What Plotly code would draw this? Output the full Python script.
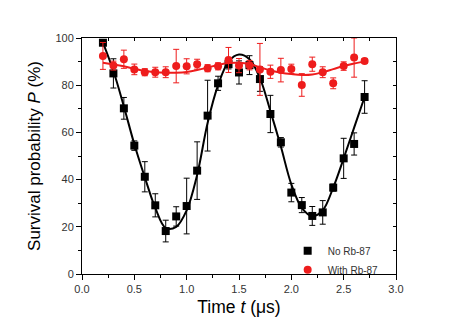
import plotly.graph_objects as go

# Measured survival probability vs. time
t = [0.2, 0.3, 0.4, 0.5, 0.6, 0.7, 0.8, 0.9, 1.0, 1.1, 1.2, 1.3, 1.4,
     1.5, 1.6, 1.7, 1.8, 1.9, 2.0, 2.1, 2.2, 2.3, 2.4, 2.5, 2.6, 2.7]

p_no_rb = [98.0, 85.0, 70.2, 54.4, 41.2, 29.1, 18.2, 24.4, 28.8, 43.8, 67.1, 80.8, 88.9,
           85.4, 88.5, 82.6, 67.8, 55.8, 34.5, 29.2, 24.6, 26.1, 36.6, 49.0, 55.1, 75.0]
err_no_rb = [1.0, 6.2, 4.6, 2.0, 6.4, 4.9, 4.6, 4.1, 11.8, 12.2, 15.0, 3.0, 2.0,
             4.9, 4.0, 5.2, 7.9, 2.0, 3.9, 3.2, 4.0, 5.0, 1.5, 8.5, 4.7, 6.9]

p_with_rb = [92.4, 88.3, 91.0, 86.7, 85.5, 85.5, 85.5, 88.1, 88.0, 88.9, 87.2, 88.0, 90.7,
             88.3, 88.5, 86.7, 85.7, 86.4, 86.9, 80.1, 88.9, 85.5, 80.8, 88.1, 91.7, 90.3]
err_with_rb = [5.7, 1.9, 3.85, 2.25, 1.5, 2.1, 2.3, 7.1, 3.2, 2.1, 1.5, 1.5, 5.3,
               3.0, 2.0, 11.0, 2.8, 5.0, 2.0, 4.8, 3.0, 2.3, 2.3, 1.8, 8.3, 1.0]

# Fitted curves
fit_no_rb = [98.0, 86.0, 71.0, 55.0, 41.0, 28.0, 19.5, 20.0, 27.0, 42.0, 64.0, 80.0, 90.0,
             93.0, 91.0, 83.0, 69.0, 54.0, 38.0, 28.0, 24.5, 27.0, 36.6, 49.0, 62.0, 75.0]
fit_with_rb = [89.5, 88.8, 88.0, 87.0, 86.0, 85.5, 85.3, 85.3, 85.6, 86.4, 87.5, 88.6, 89.4,
               89.5, 89.0, 87.6, 86.2, 85.3, 84.7, 84.3, 84.5, 85.5, 86.8, 88.1, 89.2, 90.1]

x_ticks = [0.0, 0.5, 1.0, 1.5, 2.0, 2.5, 3.0]
x_tick_labels = ["0.0", "0.5", "1.0", "1.5", "2.0", "2.5", "3.0"]
y_ticks = [0, 20, 40, 60, 80, 100]

RED = "#ee1c1c"
FONT = "Arial, Liberation Sans, sans-serif"

fig = go.Figure()

fig.add_trace(go.Scatter(
    x=t, y=fit_no_rb, mode="lines", line=dict(color="black", width=2, shape="spline"),
    showlegend=False, hoverinfo="skip"))
fig.add_trace(go.Scatter(
    x=t, y=p_no_rb, mode="markers", name="No Rb-87",
    marker=dict(symbol="square", size=8, color="black"),
    error_y=dict(type="data", array=err_no_rb, color="black", thickness=1, width=3)))

fig.add_trace(go.Scatter(
    x=t, y=fit_with_rb, mode="lines", line=dict(color=RED, width=2, shape="spline"),
    showlegend=False, hoverinfo="skip"))
fig.add_trace(go.Scatter(
    x=t, y=p_with_rb, mode="markers", name="With Rb-87",
    marker=dict(symbol="circle", size=8, color=RED),
    error_y=dict(type="data", array=err_with_rb, color=RED, thickness=1, width=3)))

# invisible traces that carry the mirrored top/right axes
fig.add_trace(go.Scatter(x=[0, 3], y=[0, 100], xaxis="x2", yaxis="y2", mode="markers",
                         marker=dict(opacity=0), showlegend=False, hoverinfo="skip"))

fig.update_layout(
    width=460, height=327,
    margin=dict(l=82, r=64, t=38, b=53),
    paper_bgcolor="white", plot_bgcolor="white",
    font=dict(family=FONT, color="#333333"),
    xaxis=dict(
        range=[0, 3], tickvals=x_ticks, ticktext=x_tick_labels,
        showgrid=False, zeroline=False, showline=True, linecolor="black", linewidth=1,
        ticks="outside", ticklen=5, tickcolor="black",
        minor=dict(ticks="outside", dtick=0.25, ticklen=3, tickcolor="black"),
        tickfont=dict(size=11, color="#333333"),
        title=dict(text="Time <i>t</i> (μs)", font=dict(size=17.5, color="black"), standoff=6)),
    yaxis=dict(
        range=[0, 100], tickvals=y_ticks,
        showgrid=False, zeroline=False, showline=True, linecolor="black", linewidth=1,
        ticks="outside", ticklen=5, tickcolor="black",
        minor=dict(ticks="outside", dtick=10, ticklen=3, tickcolor="black"),
        tickfont=dict(size=11, color="#333333"),
        title=dict(text="Survival probability <i>P</i> (%)", font=dict(size=17, color="black"),
                   standoff=10)),
    xaxis2=dict(
        overlaying="x", side="top", range=[0, 3], dtick=0.25, tick0=0,
        showgrid=False, zeroline=False, showline=True, linecolor="black", linewidth=1,
        ticks="inside", ticklen=3, tickcolor="black", showticklabels=False),
    yaxis2=dict(
        overlaying="y", side="right", range=[0, 100], dtick=10, tick0=0,
        showgrid=False, zeroline=False, showline=True, linecolor="black", linewidth=1,
        ticks="inside", ticklen=3, tickcolor="black", showticklabels=False),
    legend=dict(
        x=0.655, y=0.16, xanchor="left", yanchor="top",
        bgcolor="rgba(0,0,0,0)", font=dict(size=10, color="#333333"),
        tracegroupgap=0, itemwidth=30),
    showlegend=True,
)

fig.write_html("out.html")
